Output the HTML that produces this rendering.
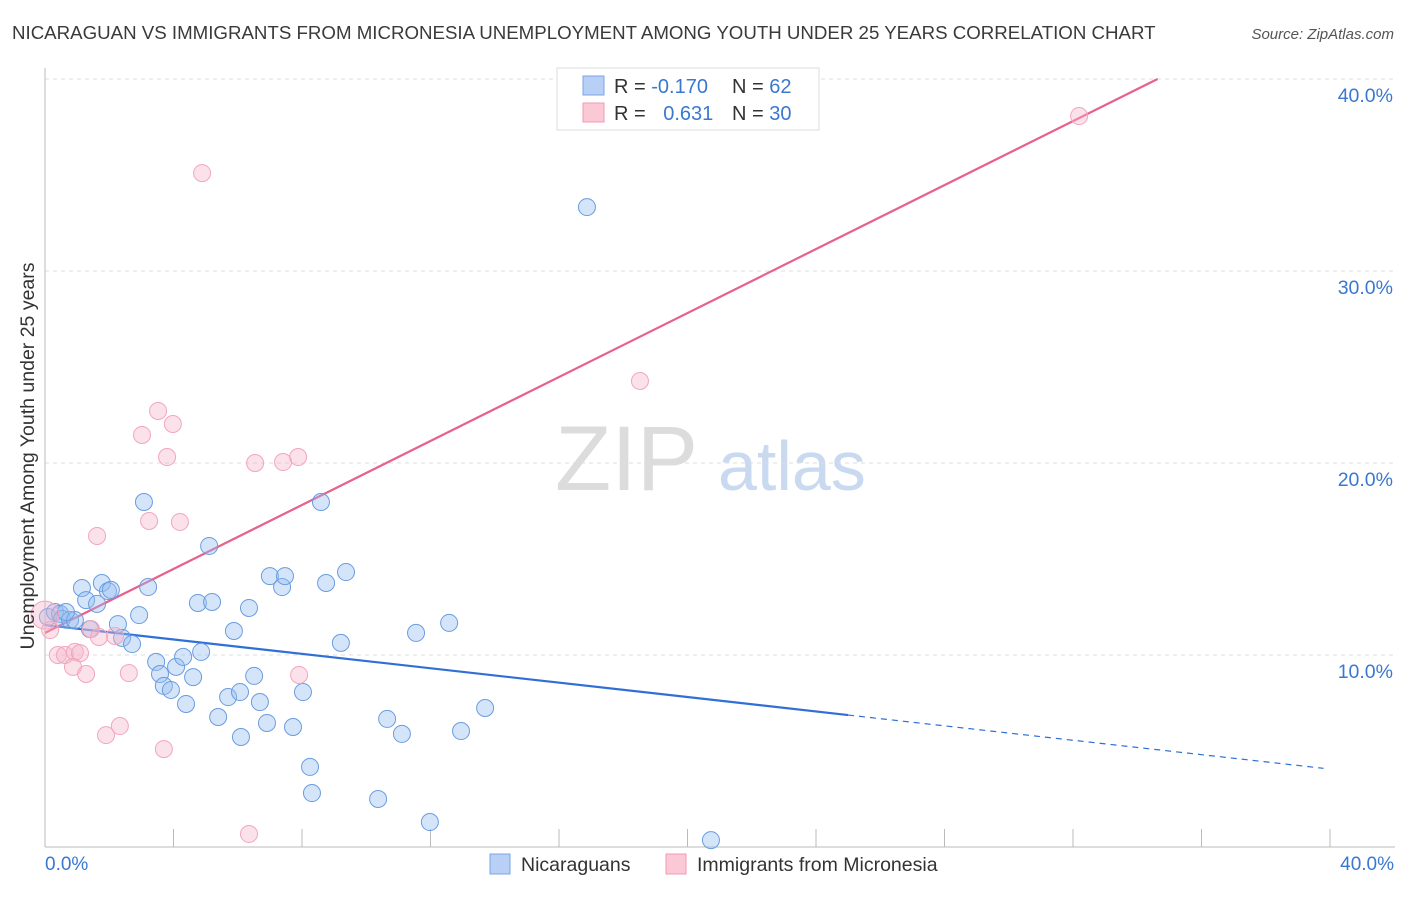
<!DOCTYPE html>
<html><head><meta charset="utf-8"><style>
body{margin:0;background:#fff;font-family:"Liberation Sans",sans-serif}
svg text{font-family:"Liberation Sans",sans-serif}
</style></head><body>
<svg id="chart" width="1406" height="892" xmlns="http://www.w3.org/2000/svg">
<text x="12" y="39" font-size="18.7" fill="#3a3a3a">NICARAGUAN VS IMMIGRANTS FROM MICRONESIA UNEMPLOYMENT AMONG YOUTH UNDER 25 YEARS CORRELATION CHART</text>
<text x="1394" y="39" font-size="15" fill="#555" font-style="italic" text-anchor="end">Source: ZipAtlas.com</text>
<g>
<text x="555" y="490" font-size="92" fill="#dcdcdc" font-family="Liberation Serif, serif">ZIP</text>
<text x="718" y="490" font-size="70" fill="#c9d9f0">atlas</text>
</g>
<g id="grid"></g><g id="axes"></g><g id="lines"></g><g id="pts"></g>
<text transform="translate(34,456) rotate(-90)" font-size="19.5" fill="#333" text-anchor="middle">Unemployment Among Youth under 25 years</text>
<text x="45" y="870" font-size="19" fill="#3a78d0">0.0%</text>
<text x="1394" y="870" font-size="19" fill="#3a78d0" text-anchor="end">40.0%</text>
<g>
<rect x="557" y="68" width="262" height="62" fill="#fff" stroke="#ddd"/>
<rect x="583" y="76" width="21" height="19" fill="#b8d0f5" stroke="#7aa5e2"/>
<rect x="583" y="103" width="21" height="19" fill="#fbc8d6" stroke="#f09ab5"/>
<text x="614" y="93" font-size="20" fill="#333">R = <tspan fill="#3a78d0">-0.170</tspan></text>
<text x="732" y="93" font-size="20" fill="#333">N = <tspan fill="#3a78d0">62</tspan></text>
<text x="614" y="120" font-size="20" fill="#333">R = <tspan fill="#3a78d0" dx="12">0.631</tspan></text>
<text x="732" y="120" font-size="20" fill="#333">N = <tspan fill="#3a78d0">30</tspan></text>
</g>
<g>
<rect x="490" y="854" width="20" height="20" fill="#b8d0f5" stroke="#7aa5e2"/>
<text x="521" y="871" font-size="19.5" fill="#333">Nicaraguans</text>
<rect x="666" y="854" width="20" height="20" fill="#fbc8d6" stroke="#f09ab5"/>
<text x="697" y="871" font-size="19.5" fill="#333">Immigrants from Micronesia</text>
</g>
</svg>
<script>
const yTicks=[10,20,30,40];
const yTickLabels=["10.0%","20.0%","30.0%","40.0%"];
const xTicks=[0,4,8,12,16,20,24,28,32,36,40];
const blueX=[0.09,0.31,0.47,0.53,0.78,0.93,1.15,1.28,1.62,1.77,1.96,2.05,2.27,1.40,2.40,2.71,2.93,3.08,3.21,3.46,3.58,3.70,3.92,4.08,4.30,4.39,4.61,4.76,4.86,5.11,5.20,5.39,5.70,5.88,6.07,6.10,6.35,6.51,6.69,6.91,7.00,7.38,7.47,7.72,8.03,8.25,8.31,8.59,8.75,9.21,9.37,10.37,10.65,11.11,11.55,11.98,12.58,12.95,13.70,16.87,20.73,0.65];
const blueY=[11.98,12.24,12.14,11.88,11.82,11.82,13.49,12.86,12.66,13.75,13.33,13.39,11.61,11.35,10.89,10.57,12.08,17.97,13.54,9.64,9.01,8.39,8.18,9.38,9.90,7.45,8.85,12.71,10.16,15.68,12.76,6.77,7.81,11.25,8.07,5.73,12.45,8.91,7.55,6.46,14.11,13.54,14.11,6.25,8.07,4.17,2.81,17.97,13.75,10.63,14.32,2.50,6.67,5.89,11.15,1.30,11.67,6.04,7.24,33.33,0.36,12.24];
const pinkX=[0.0,0.16,0.40,0.62,0.93,1.09,0.87,1.28,1.43,1.62,1.68,1.90,2.18,2.33,2.61,3.02,3.24,3.52,3.70,3.80,3.98,4.20,4.89,6.35,6.54,7.41,7.88,7.91,18.52,32.19];
const pinkY=[12.08,11.30,10.0,10.0,10.16,10.10,9.38,9.01,11.35,16.20,10.94,5.83,10.99,6.30,9.06,21.46,16.98,22.71,5.10,20.31,22.03,16.93,35.10,0.68,20.0,20.05,20.31,8.96,24.27,38.07];
const blueTrend=[11.56,4.06];
const blueSolidEnd=25;
const pinkTrend=[11.15,0.833];
const NS="http://www.w3.org/2000/svg";
const X=v=>45+v*32.125, Y=v=>847-v*19.2;
function mk(tag,attrs,parent){const e=document.createElementNS(NS,tag);for(const k in attrs)e.setAttribute(k,attrs[k]);parent.appendChild(e);return e;}
const grid=document.getElementById('grid'),axes=document.getElementById('axes'),lines=document.getElementById('lines'),pts=document.getElementById('pts');
yTicks.forEach((t,i)=>{
 const l=mk('line',{x1:45,x2:1395,y1:Y(t),y2:Y(t),stroke:'#ddd','stroke-dasharray':'4,4'},grid);
 
 
 const tx=mk('text',{x:1393,y:Y(t)+23,'font-size':19.5,fill:'#3a78d0','text-anchor':'end'},grid);
 tx.textContent=yTickLabels[i];
 
 
});
const ya=mk('line',{x1:45,x2:45,y1:68,y2:847,stroke:'#bbb'},axes);


const xa=mk('line',{x1:45,x2:1395,y1:847,y2:847,stroke:'#bbb'},axes);


xTicks.forEach(t=>{
 const l=mk('line',{x1:X(t),x2:X(t),y1:829,y2:847,stroke:'#bbb'},axes);
 
 
});
const bySolid=blueTrend[0]+(blueTrend[1]-blueTrend[0])*blueSolidEnd/40;
const bl=mk('line',{x1:X(0),y1:Y(blueTrend[0]),x2:X(blueSolidEnd),y2:Y(bySolid),stroke:'#2f6fd6','stroke-width':2.2},lines);


const bd=mk('line',{x1:X(blueSolidEnd),y1:Y(bySolid),x2:X(39.8),y2:Y(blueTrend[0]+(blueTrend[1]-blueTrend[0])*39.8/40),stroke:'#2f6fd6','stroke-width':1.2,'stroke-dasharray':'6,5'},lines);


const pxEnd=(40-pinkTrend[0])/pinkTrend[1];
const pl=mk('line',{x1:X(0),y1:Y(pinkTrend[0]),x2:X(pxEnd),y2:Y(40),stroke:'#e8608c','stroke-width':2.2},lines);


blueX.forEach((x,i)=>{
 const c=mk('circle',{cx:X(x),cy:Y(blueY[i]),r:8.5,fill:'rgba(150,190,240,0.4)',stroke:'#6a9ce0','stroke-width':1},pts);
 
 
});
pinkX.forEach((x,i)=>{
 const c=mk('circle',{cx:X(x),cy:Y(pinkY[i]),r:i===0?14:8.5,fill:'rgba(246,180,200,0.4)',stroke:'#f2a6be','stroke-width':1},pts);
 
 
});
</script>
</body></html>
